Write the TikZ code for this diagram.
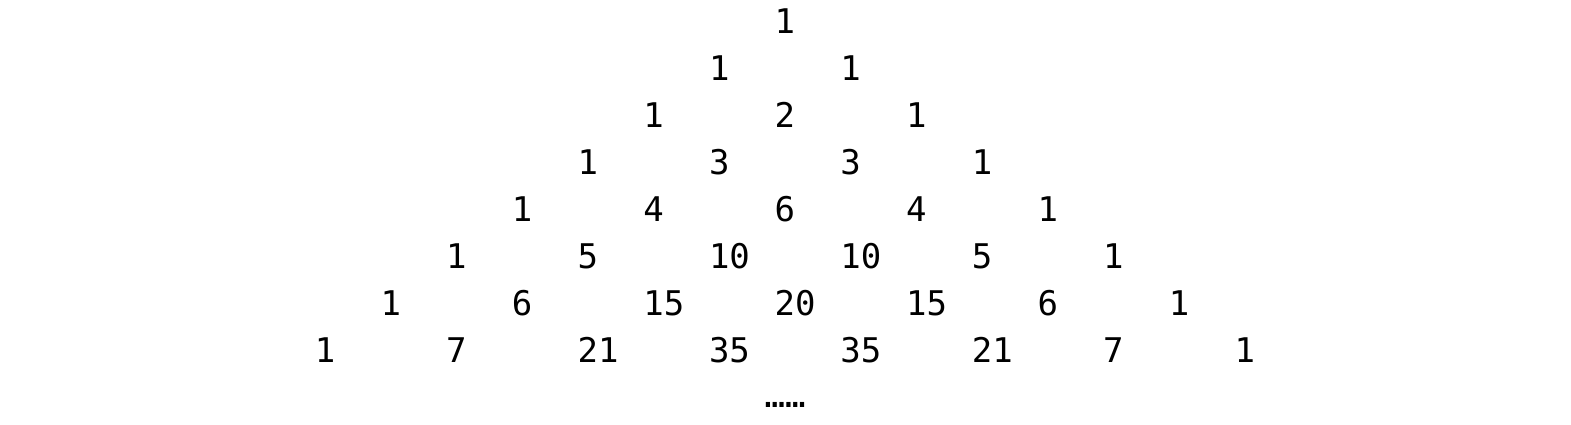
\documentclass[tikz,border=0pt]{standalone}
\usepackage{fontspec}
\newfontfamily\monofnt{DejaVu Sans Mono}
\begin{document}
\begin{tikzpicture}[x=1pt,y=-1pt,
  num/.style={anchor=base west,inner sep=0pt,outer sep=0pt,font=\monofnt\fontsize{34}{40}\selectfont,text=black}]
\useasboundingbox (0,0) rectangle (1571,424);
% first-character centre of column k: 325 + 65.7 k ; baseline of row r: 33 + 47 (r-1)
\foreach \r/\vals in {1/{1},2/{1,1},3/{1,2,1},4/{1,3,3,1},5/{1,4,6,4,1},6/{1,5,10,10,5,1},7/{1,6,15,20,15,6,1},8/{1,7,21,35,35,21,7,1}}{
  \foreach \v [count=\i from 0] in \vals {
    \pgfmathsetmacro{\xx}{325+65.7*(8-\r+2*\i)-10.2}
    \pgfmathsetmacro{\yy}{33+47*(\r-1)}
    \node[num] (n\r-\i) at (\xx,\yy) {\v};
  }
}
\node[num,anchor=base] (dots) at (785,407) {……};
\end{tikzpicture}
\end{document}
